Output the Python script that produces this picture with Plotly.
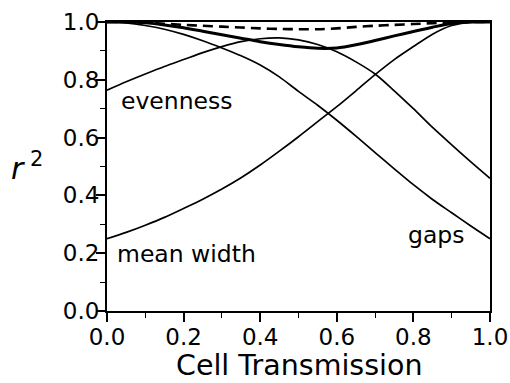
import plotly.graph_objects as go

# Cell transmission grid and r^2 for each predictor
transmission = [0.00, 0.05, 0.10, 0.15, 0.20, 0.25, 0.30, 0.35, 0.40, 0.45, 0.50,
                0.55, 0.60, 0.65, 0.70, 0.75, 0.80, 0.85, 0.90, 0.95, 1.00]

r2_mean_width = [0.250, 0.272, 0.297, 0.324, 0.355, 0.387, 0.422, 0.461, 0.505, 0.553, 0.603,
                 0.655, 0.707, 0.762, 0.818, 0.870, 0.915, 0.958, 0.988, 0.999, 1.000]

r2_gaps = [1.000, 0.997, 0.988, 0.975, 0.957, 0.935, 0.910, 0.883, 0.851, 0.810, 0.760,
           0.712, 0.660, 0.605, 0.548, 0.492, 0.437, 0.386, 0.340, 0.294, 0.250]

r2_evenness = [0.764, 0.793, 0.820, 0.846, 0.870, 0.894, 0.915, 0.932, 0.942, 0.945, 0.938,
               0.922, 0.897, 0.862, 0.820, 0.762, 0.700, 0.635, 0.575, 0.516, 0.459]

r2_combined = [1.000, 1.000, 0.997, 0.990, 0.980, 0.968, 0.956, 0.944, 0.932, 0.922, 0.914,
               0.909, 0.910, 0.921, 0.936, 0.952, 0.967, 0.982, 0.995, 1.000, 1.000]

r2_all = [1.000, 1.000, 0.998, 0.994, 0.990, 0.987, 0.984, 0.981, 0.978, 0.976, 0.975,
          0.975, 0.978, 0.983, 0.987, 0.990, 0.993, 0.996, 0.998, 1.000, 1.000]

tick_vals = [0.0, 0.2, 0.4, 0.6, 0.8, 1.0]
tick_text = ["0.0", "0.2", "0.4", "0.6", "0.8", "1.0"]

FONT = "DejaVu Sans"
BLACK = "#000000"

fig = go.Figure()

thin = dict(color=BLACK, width=1.7, shape="spline", smoothing=0.8)
for ys in (r2_mean_width, r2_gaps, r2_evenness):
    fig.add_trace(go.Scatter(x=transmission, y=ys, mode="lines", line=thin,
                             showlegend=False, hoverinfo="skip"))

fig.add_trace(go.Scatter(x=transmission, y=r2_combined, mode="lines",
                         line=dict(color=BLACK, width=3, shape="spline", smoothing=0.8),
                         showlegend=False, hoverinfo="skip"))
fig.add_trace(go.Scatter(x=transmission, y=r2_all, mode="lines",
                         line=dict(color=BLACK, width=2.6, dash="10px,6px",
                                   shape="spline", smoothing=0.8),
                         showlegend=False, hoverinfo="skip"))

axis_common = dict(
    range=[0, 1],
    automargin=False,
    showgrid=False,
    zeroline=False,
    showline=True,
    linecolor=BLACK,
    linewidth=2,
    mirror=True,
    ticks="outside",
    ticklen=9,
    tickwidth=1.5,
    tickcolor=BLACK,
    tickvals=tick_vals,
    ticktext=tick_text,
    tickfont=dict(family=FONT, size=23, color=BLACK),
    minor=dict(ticks="outside", ticklen=5, tickwidth=1.2, tickcolor=BLACK, dtick=0.1),
)

fig.update_xaxes(**axis_common, ticklabelstandoff=-5)
fig.update_yaxes(**axis_common, ticklabelstandoff=-8)

labels = [
    ("evenness", 0.031, 0.728),
    ("mean width", 0.020, 0.196),
    ("gaps", 0.780, 0.262),
]
for text, lx, ly in labels:
    fig.add_annotation(x=lx, y=ly, xref="x", yref="y", text=text, showarrow=False,
                       xanchor="left", yanchor="middle",
                       font=dict(family=FONT, size=23.5, color=BLACK))

fig.add_annotation(x=0.5, y=-0.19, xref="paper", yref="paper", text="Cell Transmission",
                   showarrow=False, xanchor="center", yanchor="middle",
                   font=dict(family=FONT, size=28.5, color=BLACK))

fig.add_annotation(x=-0.255, y=0.50, xref="paper", yref="paper",
                   text="<i>r</i><sup> 2</sup>", showarrow=False,
                   xanchor="left", yanchor="middle",
                   font=dict(family=FONT, size=30, color=BLACK))

fig.update_layout(
    width=510,
    height=383,
    margin=dict(l=107, r=20, t=22, b=72),
    paper_bgcolor="white",
    plot_bgcolor="white",
)

fig.write_html("out.html")
